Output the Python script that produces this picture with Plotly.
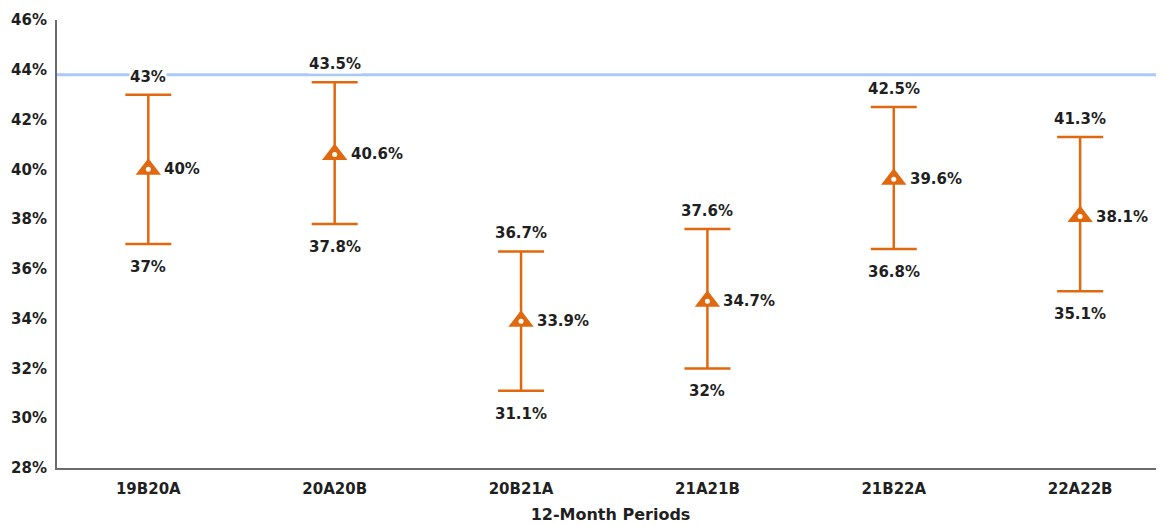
import plotly.graph_objects as go

periods = ["19B20A", "20A20B", "20B21A", "21A21B", "21B22A", "22A22B"]
mean_vals = [40.0, 40.6, 33.9, 34.7, 39.6, 38.1]
upper_vals = [43.0, 43.5, 36.7, 37.6, 42.5, 41.3]
lower_vals = [37.0, 37.8, 31.1, 32.0, 36.8, 35.1]
ref_line = 43.8

ORANGE = "#E0680F"
TXT = "#1f1f1f"
FONT = "DejaVu Sans"

xs = list(range(len(periods)))

fig = go.Figure()
fig.add_shape(type="line", xref="paper", x0=0, x1=1, yref="y", y0=ref_line, y1=ref_line,
              line=dict(color="#A9C9F7", width=3), layer="below")

fig.add_trace(go.Scatter(
    x=xs, y=mean_vals, mode="markers",
    marker=dict(symbol="triangle-up", size=22, color=ORANGE, line=dict(width=0)),
    error_y=dict(type="data", symmetric=False,
                 array=[u - m for u, m in zip(upper_vals, mean_vals)],
                 arrayminus=[m - l for m, l in zip(mean_vals, lower_vals)],
                 color=ORANGE, thickness=2.5, width=23),
    showlegend=False, hoverinfo="skip"))
fig.add_trace(go.Scatter(
    x=xs, y=mean_vals, mode="markers",
    marker=dict(symbol="circle", size=5, color="white", line=dict(width=0)),
    showlegend=False, hoverinfo="skip"))

def fmt(v):
    s = f"{v:.1f}"
    if s.endswith(".0"):
        s = s[:-2]
    return s + "%"

LBL = dict(family=FONT, size=15, color=TXT, weight="bold")

for i in xs:
    fig.add_annotation(x=i, y=upper_vals[i], text=fmt(upper_vals[i]), showarrow=False,
                       yshift=18, bgcolor="white", borderpad=0, font=LBL)
    fig.add_annotation(x=i, y=lower_vals[i], text=fmt(lower_vals[i]), showarrow=False,
                       yshift=-23, font=LBL)
    fig.add_annotation(x=i, y=mean_vals[i], text=fmt(mean_vals[i]), showarrow=False,
                       xshift=14, xanchor="left", font=LBL)

fig.update_layout(
    width=1156, height=517,
    margin=dict(l=49, r=0, t=12, b=57),
    plot_bgcolor="white", paper_bgcolor="white",
    font=dict(family=FONT, color=TXT),
)
fig.update_xaxes(
    range=[-0.49, 5.45], tickmode="array", tickvals=xs, ticktext=periods,
    showgrid=False, zeroline=False, showline=True, linecolor="#6b6b6b", linewidth=2,
    ticks="outside", ticklen=6, tickcolor="rgba(0,0,0,0)", tickfont=LBL, automargin=False,
    title=dict(text="12-Month Periods", font=dict(family=FONT, size=16, color=TXT, weight="bold"), standoff=12),
)
fig.update_yaxes(
    range=[28, 46], dtick=2, ticksuffix="%", showgrid=False, zeroline=False,
    showline=True, linecolor="#6b6b6b", linewidth=2,
    ticks="outside", ticklen=5, tickcolor="rgba(0,0,0,0)", automargin=False,
    tickfont=LBL,
)

fig.write_html("out.html")
